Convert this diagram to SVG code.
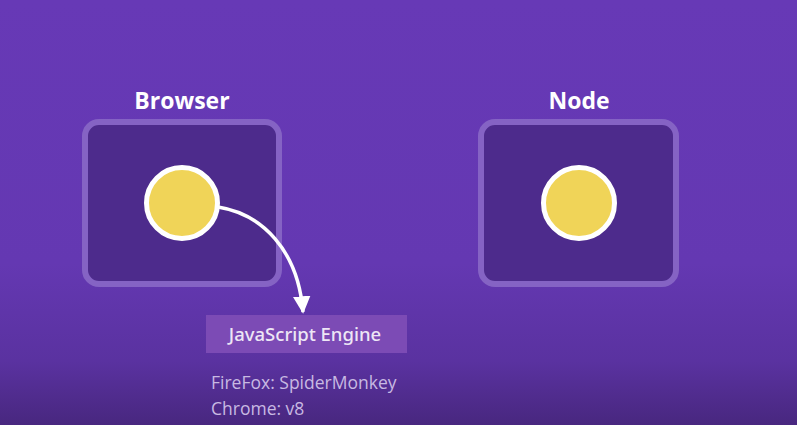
<svg xmlns="http://www.w3.org/2000/svg" width="797" height="425" viewBox="0 0 797 425">
<defs>
<linearGradient id="bg" x1="0" y1="0" x2="0" y2="1">
<stop offset="0" stop-color="#6739B6"/>
<stop offset="0.62" stop-color="#6438B2"/>
<stop offset="0.85" stop-color="#5A32A0"/>
<stop offset="1" stop-color="#48277F"/>
</linearGradient>
<marker id="arrow" viewBox="0 0 10 10" refX="9" refY="5" markerWidth="5" markerHeight="5" orient="auto" markerUnits="strokeWidth">
<path d="M0,0 L10,5 L0,10 Z" fill="#FFFFFF"/>
</marker>
<style>
.box{fill:#4D2B8C;stroke:#8563C4;stroke-width:6}
.ball{fill:#F0D458;stroke:#FFFFFF;stroke-width:5}
.title{font-family:"Open Sans","Noto Sans",sans-serif;font-weight:bold;font-size:23px;fill:#FFFFFF;text-anchor:middle}
.eng{font-family:"Noto Sans","Open Sans",sans-serif;font-weight:500;font-size:18.5px;fill:#EDE6F5;text-anchor:middle}
.note{font-family:"Open Sans","Noto Sans",sans-serif;font-size:17.5px;fill:#C8B9E2}
</style>
</defs>
<rect x="0" y="0" width="797" height="425" fill="url(#bg)"/>
<g id="browser">
<text class="title" x="182" y="109">Browser</text>
<rect class="box" x="85" y="122" width="194" height="162" rx="14"/>
<circle class="ball" cx="182" cy="203" r="35.5"/>
</g>
<g id="node">
<text class="title" x="579" y="109">Node</text>
<rect class="box" x="481" y="122" width="195" height="162" rx="14"/>
<circle class="ball" cx="579" cy="203" r="35.5"/>
</g>
<g id="engine">
<rect x="206" y="315" width="201" height="38" fill="#7C4BB5"/>
<text class="eng" x="305" y="341">JavaScript Engine</text>
<text class="note" x="211" y="389">FireFox: SpiderMonkey</text>
<text class="note" x="211" y="415">Chrome: v8</text>
</g>
<g id="connectors">
<path d="M218,207 C262,214 298,250 303,312" fill="none" stroke="#FFFFFF" stroke-width="3.5" marker-end="url(#arrow)"/>
</g>
</svg>
